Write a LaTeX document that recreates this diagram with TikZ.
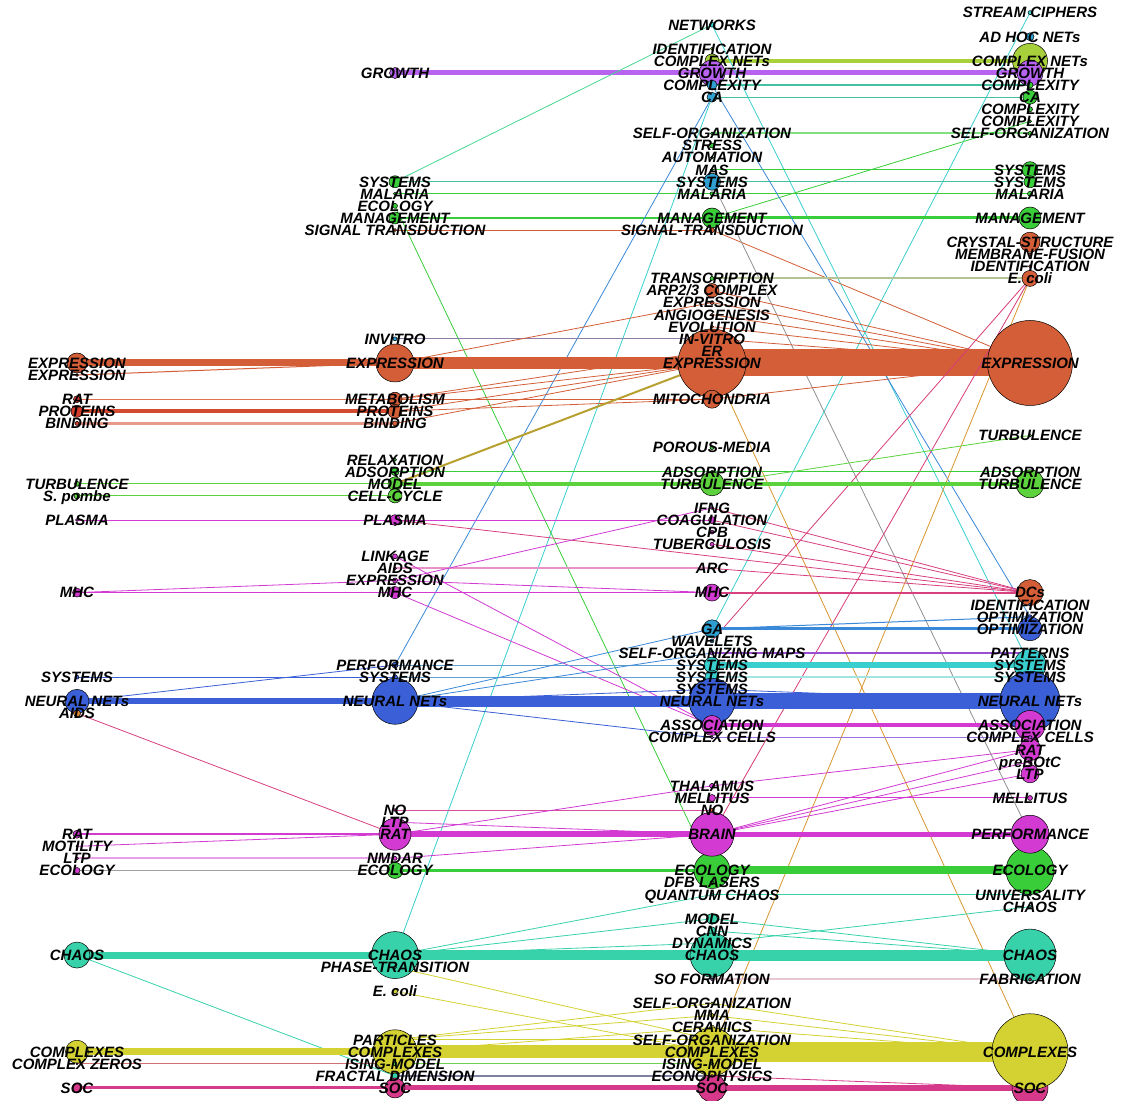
\documentclass[tikz,border=0pt]{standalone}
\usepackage{fontspec}
\setmainfont{Liberation Sans}
\pgfdeclarelayer{bg}
\pgfsetlayers{bg,main}
\definecolor{cOr}{HTML}{D35E38}
\definecolor{cRed}{HTML}{D33C2C}
\definecolor{cPur}{HTML}{B862F0}
\definecolor{cYG}{HTML}{A8D03A}
\definecolor{cGr}{HTML}{3ACD3A}
\definecolor{cLG}{HTML}{5CD23C}
\definecolor{cBT}{HTML}{2E9FD0}
\definecolor{cBl}{HTML}{3A5FD6}
\definecolor{cMag}{HTML}{D23AD2}
\definecolor{cTe}{HTML}{38D2AA}
\definecolor{cCy}{HTML}{3ACFCF}
\definecolor{cYe}{HTML}{D3D232}
\definecolor{cPk}{HTML}{D6398A}
\definecolor{cOr2}{HTML}{DC8A30}
\definecolor{cVi}{HTML}{9A4FD0}
\definecolor{eTG}{HTML}{45D890}
\definecolor{eSy}{HTML}{45C0A0}
\definecolor{eLG}{HTML}{80E080}
\definecolor{eBl}{HTML}{3A88D8}
\definecolor{eGy}{HTML}{909090}
\definecolor{eKh}{HTML}{B4C494}
\definecolor{eIv}{HTML}{8C7CA8}
\definecolor{eRo}{HTML}{E07050}
\definecolor{ePr}{HTML}{D24A30}
\definecolor{eBi}{HTML}{E89A88}
\definecolor{eOl}{HTML}{B8A030}
\definecolor{eGo}{HTML}{D8962E}
\definecolor{eCr}{HTML}{D83C78}
\definecolor{eDc}{HTML}{D84080}
\definecolor{ePm}{HTML}{E890C8}
\definecolor{eSb}{HTML}{60A0D0}
\definecolor{ePc}{HTML}{A0E4E4}
\definecolor{eCc}{HTML}{A070E0}
\definecolor{eLm}{HTML}{E8A0E8}
\definecolor{eGr2}{HTML}{A0A0A0}
\definecolor{eFb}{HTML}{E8C8D0}
\definecolor{eZr}{HTML}{D07070}
\definecolor{eIs}{HTML}{70D050}
\definecolor{eFr}{HTML}{8080A0}
\definecolor{eNo}{HTML}{D850A0}
\tikzset{
  circ/.style={circle, draw=black, line width=0.5pt, inner sep=0pt},
  lbl/.style={font=\fontsize{15}{15}\selectfont\bfseries\itshape, inner sep=0pt,
              text height=10.7pt, text depth=0pt, text=black},
}
\newcommand\nodelist{%
% column 1
\N{aexpr}{77}{24}{20}{cOr}{EXPRESSION}
\N{aexprb}{77}{25}{3}{cOr}{EXPRESSION}
\N{arat}{77}{27}{7}{cRed}{RAT}
\N{aprot}{77}{28}{12}{cRed}{PROTEINS}
\N{abind}{77}{29}{4}{cRed}{BINDING}
\N{aturb}{77}{34}{5}{cLG}{TURBULENCE}
\N{aspombe}{77}{35}{6}{cLG}{S. pombe}
\N{aplasma}{77}{37}{3}{cMag}{PLASMA}
\N{amhc}{77}{43}{9}{cMag}{MHC}
\N{asys}{77}{50}{4}{cBl}{SYSTEMS}
\N{ann}{77}{52}{24}{cBl}{NEURAL NETs}
\N{aaids}{77}{53}{7}{cOr2}{AIDS}
\N{aratb}{77}{63}{8}{cMag}{RAT}
\N{amot}{77}{64}{2}{cMag}{MOTILITY}
\N{altp}{77}{65}{3}{cMag}{LTP}
\N{aeco}{77}{66}{6}{cMag}{ECOLOGY}
\N{achaos}{77}{73}{26}{cTe}{CHAOS}
\N{acplx}{77}{81}{23}{cYe}{COMPLEXES}
\N{acz}{77}{82}{2}{cVi}{COMPLEX ZEROS}
\N{asoc}{77}{84}{10}{cPk}{SOC}
% column 2
\N{bgrowth}{395}{0}{11}{cPur}{GROWTH}
\N{bsys}{395}{9}{12}{cGr}{SYSTEMS}
\N{bmal}{395}{10}{3}{cGr}{MALARIA}
\N{beco}{395}{11}{5}{cGr}{ECOLOGY}
\N{bman}{395}{12}{12}{cGr}{MANAGEMENT}
\N{bsig}{395}{13}{3}{cOr}{SIGNAL TRANSDUCTION}
\N{binvitro}{395}{22}{4}{cBT}{INVITRO}
\N{bexpr}{395}{24}{38}{cOr}{EXPRESSION}
\N{bmeta}{395}{27}{14}{cOr}{METABOLISM}
\N{bprot}{395}{28}{14}{cOr}{PROTEINS}
\N{bbind}{395}{29}{5}{cOr}{BINDING}
\N{brelax}{395}{32}{3}{cGr}{RELAXATION}
\N{bads}{395}{33}{8}{cGr}{ADSORPTION}
\N{bmodel}{395}{34}{14}{cLG}{MODEL}
\N{bcell}{395}{35}{14}{cLG}{CELL-CYCLE}
\N{bplasma}{395}{37}{11}{cMag}{PLASMA}
\N{blink}{395}{40}{5}{cMag}{LINKAGE}
\N{baids}{395}{41}{3}{cMag}{AIDS}
\N{bexprb}{395}{42}{5}{cMag}{EXPRESSION}
\N{bmhc}{395}{43}{12}{cMag}{MHC}
\N{bperf}{395}{49}{6}{cBl}{PERFORMANCE}
\N{bsysb}{395}{50}{5}{cBl}{SYSTEMS}
\N{bnn}{395}{52}{46}{cBl}{NEURAL NETs}
\N{bno}{395}{61}{3}{cMag}{NO}
\N{bltp}{395}{62}{5}{cMag}{LTP}
\N{brat}{395}{63}{32}{cMag}{RAT}
\N{bnmdar}{395}{65}{4}{cMag}{NMDAR}
\N{becob}{395}{66}{16}{cGr}{ECOLOGY}
\N{bchaos}{395}{73}{47}{cTe}{CHAOS}
\N{bphase}{395}{74}{3}{cTe}{PHASE-TRANSITION}
\N{becoli}{395}{76}{5}{cYe}{E. coli}
\N{bpart}{395}{80}{4}{cYe}{PARTICLES}
\N{bcplx}{395}{81}{44}{cYe}{COMPLEXES}
\N{bising}{395}{82}{4}{cGr}{ISING-MODEL}
\N{bfrac}{395}{83}{6}{cTe}{FRACTAL DIMENSION}
\N{bsoc}{395}{84}{20}{cPk}{SOC}
% column 3
\N{cnet}{712}{-4}{5}{cCy}{NETWORKS}
\N{cident}{712}{-2}{3}{cYG}{IDENTIFICATION}
\N{ccnet}{712}{-1}{14}{cYG}{COMPLEX NETs}
\N{cgrowth}{712}{0}{26}{cPur}{GROWTH}
\N{ccplxty}{712}{1}{10}{cBT}{COMPLEXITY}
\N{cca}{712}{2}{10}{cBT}{CA}
\N{cself}{712}{5}{3}{cGr}{SELF-ORGANIZATION}
\N{cstress}{712}{6}{5}{cGr}{STRESS}
\N{cauto}{712}{7}{3}{cGr}{AUTOMATION}
\N{cmas}{712}{8}{3}{cGr}{MAS}
\N{csys}{712}{9}{17}{cBT}{SYSTEMS}
\N{cmal}{712}{10}{4}{cGr}{MALARIA}
\N{cman}{712}{12}{20}{cGr}{MANAGEMENT}
\N{csig}{712}{13}{5}{cOr}{SIGNAL-TRANSDUCTION}
\N{ctrans}{712}{17}{4}{cGr}{TRANSCRIPTION}
\N{carp}{712}{18}{14}{cOr}{ARP2/3 COMPLEX}
\N{cexprb}{712}{19}{4}{cOr}{EXPRESSION}
\N{cangio}{712}{20}{3}{cOr}{ANGIOGENESIS}
\N{cevo}{712}{21}{3}{cOr}{EVOLUTION}
\N{cinvitro}{712}{22}{3}{cOr}{IN-VITRO}
\N{cer}{712}{23}{3}{cOr}{ER}
\N{cexpr}{712}{24}{68}{cOr}{EXPRESSION}
\N{cmito}{712}{27}{18}{cOr}{MITOCHONDRIA}
\N{cporous}{712}{31}{4}{cGr}{POROUS-MEDIA}
\N{cads}{712}{33}{3}{cGr}{ADSORPTION}
\N{cturb}{712}{34}{24}{cLG}{TURBULENCE}
\N{cifng}{712}{36}{3}{cMag}{IFNG}
\N{ccoag}{712}{37}{7}{cMag}{COAGULATION}
\N{ccpb}{712}{38}{4}{cMag}{CPB}
\N{ctb}{712}{39}{4}{cMag}{TUBERCULOSIS}
\N{carc}{712}{41}{2}{cMag}{ARC}
\N{cmhc}{712}{43}{17}{cMag}{MHC}
\N{cga}{712}{46}{18}{cBT}{GA}
\N{cwav}{712}{47}{4}{cBT}{WAVELETS}
\N{csom}{712}{48}{4}{cVi}{SELF-ORGANIZING MAPS}
\N{csysa}{712}{49}{16}{cCy}{SYSTEMS}
\N{csysb}{712}{50}{14}{cCy}{SYSTEMS}
\N{csysc}{712}{51}{5}{cBl}{SYSTEMS}
\N{cnn}{712}{52}{46}{cBl}{NEURAL NETs}
\N{cassoc}{712}{54}{20}{cMag}{ASSOCIATION}
\N{ccc}{712}{55}{3}{cVi}{COMPLEX CELLS}
\N{cthal}{712}{59}{5}{cMag}{THALAMUS}
\N{cmell}{712}{60}{7}{cMag}{MELLITUS}
\N{cno}{712}{61}{4}{cOr}{NO}
\N{ceco}{712}{66}{36}{cGr}{ECOLOGY}
\N{cbrain}{712}{63}{44}{cMag}{BRAIN}
\N{cdfb}{712}{67}{4}{cGr}{DFB LASERS}
\N{cqc}{712}{68}{3}{cTe}{QUANTUM CHAOS}
\N{cmodel}{712}{70}{11}{cTe}{MODEL}
\N{ccnn}{712}{71}{8}{cTe}{CNN}
\N{cdyn}{712}{72}{5}{cTe}{DYNAMICS}
\N{cchaos}{712}{73}{44}{cTe}{CHAOS}
\N{cso}{712}{75}{3}{cVi}{SO FORMATION}
\N{cselfa}{712}{77}{3}{cYe}{SELF-ORGANIZATION}
\N{cmma}{712}{78}{4}{cYe}{MMA}
\N{ccer}{712}{79}{5}{cYe}{CERAMICS}
\N{cselfb}{712}{80}{5}{cYe}{SELF-ORGANIZATION}
\N{csoc}{712}{84}{28}{cPk}{SOC}
\N{ccplx}{712}{81}{48}{cYe}{COMPLEXES}
\N{cising}{712}{82}{3}{cGr}{ISING-MODEL}
\N{cecon}{712}{83}{3}{cPk}{ECONOPHYSICS}
% column 4
\N{dstream}{1030}{-5}{4}{cCy}{STREAM CIPHERS}
\N{dadhoc}{1030}{-3}{8}{cBT}{AD HOC NETs}
\N{dcnet}{1030}{-1}{35}{cYG}{COMPLEX NETs}
\N{dgrowth}{1030}{0}{26}{cPur}{GROWTH}
\N{dcplxty}{1030}{1}{6}{cGr}{COMPLEXITY}
\N{dca}{1030}{2}{14}{cGr}{CA}
\N{dcplxtyb}{1030}{3}{5}{cGr}{COMPLEXITY}
\N{dcplxtyc}{1030}{4}{3}{cGr}{COMPLEXITY}
\N{dself}{1030}{5}{4}{cGr}{SELF-ORGANIZATION}
\N{dsysa}{1030}{8}{16}{cGr}{SYSTEMS}
\N{dsysb}{1030}{9}{12}{cGr}{SYSTEMS}
\N{dmal}{1030}{10}{5}{cGr}{MALARIA}
\N{dman}{1030}{12}{22}{cGr}{MANAGEMENT}
\N{dcrys}{1030}{14}{20}{cOr}{CRYSTAL-STRUCTURE}
\N{dmemb}{1030}{15}{3}{cOr}{MEMBRANE-FUSION}
\N{dident}{1030}{16}{3}{cOr}{IDENTIFICATION}
\N{decoli}{1030}{17}{16}{cOr}{E. coli}
\N{dexpr}{1030}{24}{85}{cOr}{EXPRESSION}
\N{dturbb}{1030}{30}{3}{cLG}{TURBULENCE}
\N{dads}{1030}{33}{3}{cGr}{ADSORPTION}
\N{dturb}{1030}{34}{28}{cLG}{TURBULENCE}
\N{ddcs}{1030}{43}{26}{cOr}{DCs}
\N{didentb}{1030}{44}{3}{cBl}{IDENTIFICATION}
\N{dopta}{1030}{45}{4}{cBl}{OPTIMIZATION}
\N{doptb}{1030}{46}{24}{cBl}{OPTIMIZATION}
\N{dpat}{1030}{48}{4}{cCy}{PATTERNS}
\N{dsysc}{1030}{49}{32}{cCy}{SYSTEMS}
\N{dsysd}{1030}{50}{9}{cCy}{SYSTEMS}
\N{dnn}{1030}{52}{60}{cBl}{NEURAL NETs}
\N{dassoc}{1030}{54}{30}{cMag}{ASSOCIATION}
\N{dcc}{1030}{55}{4}{cVi}{COMPLEX CELLS}
\N{drat}{1030}{56}{22}{cMag}{RAT}
\N{dpre}{1030}{57}{4}{cMag}{preBOtC}
\N{dltp}{1030}{58}{18}{cMag}{LTP}
\N{dmell}{1030}{60}{5}{cMag}{MELLITUS}
\N{deco}{1030}{66}{48}{cGr}{ECOLOGY}
\N{dperf}{1030}{63}{38}{cMag}{PERFORMANCE}
\N{duniv}{1030}{68}{3}{cTe}{UNIVERSALITY}
\N{dchaosb}{1030}{69}{3}{cTe}{CHAOS}
\N{dchaos}{1030}{73}{52}{cTe}{CHAOS}
\N{dfab}{1030}{75}{3}{cPk}{FABRICATION}
\N{dsoc}{1030}{84}{36}{cPk}{SOC}
\N{dcplx}{1030}{81}{76}{cYe}{COMPLEXES}
}
\newcommand\E[4]{\draw[line width=#4pt, draw=#3] (#1.center) -- (#2.center);}
\begin{document}
\begin{tikzpicture}[x=1pt, y=-12.083pt]
\useasboundingbox (0,-6.0415) rectangle (1123,85.078);
% nodes, first pass: circles
\def\N#1#2#3#4#5#6{\node[circ, minimum size=#4pt, fill=#5] (#1) at (#2,#3) {};}
\nodelist
\begin{pgfonlayer}{bg}
\fill[white] (0,-6.0415) rectangle (1123,85.078);
% top clusters
\E{bgrowth}{cgrowth}{cPur}{5}
\E{cgrowth}{dgrowth}{cPur}{5}
\E{ccnet}{dcnet}{cYG}{4}
\E{bsys}{cnet}{eTG}{0.8}
\E{cnet}{dsysc}{cCy}{0.8}
\E{dstream}{cga}{cCy}{0.8}
\E{ccplxty}{dcplxty}{eSy}{1.2}
\E{cca}{dca}{eSy}{1.2}
\E{cself}{dself}{eLG}{2}
\E{cmas}{dsysa}{cGr}{1.2}
\E{bsys}{csys}{eSy}{1.2}
\E{csys}{dsysb}{eSy}{1.5}
\E{bmal}{cmal}{cGr}{1}
\E{cmal}{dmal}{cGr}{1}
\E{bman}{cman}{cGr}{2}
\E{cman}{dman}{cGr}{3}
\E{bsig}{csig}{cOr}{1}
\E{csig}{dexpr}{cOr}{0.8}
\E{dcplxtyc}{cman}{cGr}{0.8}
\E{cca}{bperf}{eBl}{0.8}
\E{cca}{bchaos}{cCy}{0.8}
\E{ccplxty}{dopta}{eBl}{0.8}
\E{csys}{dperf}{eGy}{0.8}
\E{beco}{ceco}{cGr}{0.8}
\E{ctrans}{decoli}{eKh}{2}
\E{binvitro}{cinvitro}{eIv}{1}
% expression cluster
\E{aexpr}{bexpr}{cOr}{7}
\E{bexpr}{cexpr}{cOr}{12}
\E{cexpr}{dexpr}{cOr}{27}
\E{aexprb}{bexpr}{cOr}{1}
\E{arat}{bmeta}{eRo}{1.2}
\E{aprot}{bprot}{ePr}{4}
\E{abind}{bbind}{eBi}{3}
\E{bmeta}{cmito}{cOr}{1}
\E{bmeta}{cer}{cOr}{0.8}
\E{bmeta}{cexpr}{cOr}{0.8}
\E{bprot}{cexpr}{cOr}{0.8}
\E{bbind}{cexpr}{cOr}{0.8}
\E{bprot}{cmito}{cOr}{0.8}
\E{bexpr}{cexprb}{cOr}{0.8}
\E{bmodel}{cexpr}{eOl}{2}
\E{carp}{dexpr}{cOr}{0.8}
\E{cexprb}{dexpr}{cOr}{0.8}
\E{cangio}{dexpr}{cOr}{0.8}
\E{cevo}{dexpr}{cOr}{0.8}
\E{cinvitro}{dexpr}{cOr}{0.8}
\E{cer}{dexpr}{cOr}{0.8}
\E{cmito}{dexpr}{cOr}{0.8}
\E{cexpr}{dcplx}{eGo}{0.8}
\E{decoli}{ccplx}{eGo}{0.8}
\E{decoli}{cwav}{eCr}{0.8}
\E{decoli}{cbrain}{eCr}{0.8}
% turbulence
\E{aturb}{bmodel}{cLG}{1}
\E{aspombe}{bcell}{cLG}{1}
\E{bmodel}{cturb}{cLG}{4}
\E{cturb}{dturb}{cLG}{4}
\E{bads}{cads}{cGr}{1}
\E{cads}{dads}{cGr}{1}
\E{cturb}{dturbb}{cLG}{0.8}
% plasma / mhc
\E{aplasma}{bplasma}{cMag}{1}
\E{bplasma}{ccoag}{cMag}{1}
\E{bplasma}{ddcs}{eDc}{0.8}
\E{cifng}{ddcs}{eDc}{0.8}
\E{ccoag}{ddcs}{eDc}{0.8}
\E{ctb}{ddcs}{eDc}{0.8}
\E{carc}{ddcs}{eDc}{0.8}
\E{cmhc}{ddcs}{eDc}{2}
\E{amhc}{bmhc}{cMag}{1}
\E{amhc}{bexprb}{cMag}{0.8}
\E{baids}{carc}{ePm}{2}
\E{bexprb}{cifng}{cMag}{0.8}
\E{bexprb}{cmhc}{cMag}{0.8}
\E{bmhc}{cmhc}{cMag}{1}
\E{blink}{cassoc}{cMag}{0.8}
\E{bmhc}{cassoc}{cMag}{0.8}
% neural nets
\E{asys}{bsysb}{cBl}{0.8}
\E{ann}{bperf}{cBl}{0.8}
\E{ann}{bnn}{cBl}{6}
\E{bnn}{cnn}{cBl}{11}
\E{cnn}{dnn}{cBl}{16}
\E{bperf}{csysa}{eSb}{1}
\E{bsysb}{csysb}{eSb}{1}
\E{bnn}{cga}{eBl}{0.8}
\E{bnn}{csom}{eBl}{0.8}
\E{bnn}{csysc}{cBl}{0.8}
\E{bnn}{ccc}{cBl}{0.8}
\E{cga}{doptb}{eBl}{3}
\E{cga}{dopta}{eBl}{1}
\E{csom}{dpat}{cVi}{1.2}
\E{csysa}{dsysc}{cCy}{6}
\E{csysb}{dsysd}{ePc}{2}
\E{csysc}{dnn}{cBl}{0.8}
\E{cassoc}{dassoc}{cMag}{4}
\E{ccc}{dcc}{eCc}{1.5}
\E{aaids}{brat}{eDc}{0.8}
% brain / rat
\E{aratb}{brat}{cMag}{2}
\E{amot}{brat}{cMag}{0.8}
\E{altp}{bnmdar}{eLm}{2}
\E{aeco}{becob}{eGr2}{1.5}
\E{brat}{cbrain}{cMag}{6}
\E{cbrain}{dperf}{cMag}{5}
\E{bno}{cno}{eNo}{1}
\E{bltp}{cbrain}{cMag}{0.8}
\E{brat}{cthal}{cMag}{0.8}
\E{bnmdar}{cbrain}{cMag}{0.8}
\E{cthal}{drat}{cMag}{0.8}
\E{cbrain}{drat}{cMag}{0.8}
\E{cbrain}{dpre}{cMag}{0.8}
\E{cbrain}{dltp}{cMag}{0.8}
\E{cmell}{dmell}{cMag}{1}
\E{becob}{ceco}{cGr}{3}
\E{ceco}{deco}{cGr}{8}
% chaos
\E{achaos}{bchaos}{cTe}{7}
\E{bchaos}{cchaos}{cTe}{10}
\E{cchaos}{dchaos}{cTe}{11}
\E{achaos}{bfrac}{cTe}{0.8}
\E{bchaos}{cqc}{cTe}{0.8}
\E{bchaos}{cmodel}{cTe}{0.8}
\E{bchaos}{cdyn}{cTe}{0.8}
\E{cqc}{duniv}{cTe}{1}
\E{cmodel}{dchaos}{cTe}{0.8}
\E{ccnn}{dchaos}{cTe}{0.8}
\E{cdyn}{dchaosb}{cTe}{0.8}
\E{cso}{dfab}{eFb}{1.5}
\E{bphase}{cselfb}{cYe}{0.8}
\E{becoli}{ccplx}{cYe}{0.8}
% complexes / soc
\E{acplx}{bcplx}{cYe}{7}
\E{bcplx}{ccplx}{cYe}{13}
\E{ccplx}{dcplx}{cYe}{20}
\E{bpart}{cselfa}{cYe}{0.8}
\E{bpart}{cmma}{cYe}{0.8}
\E{bpart}{cselfb}{cYe}{0.8}
\E{bcplx}{ccer}{cYe}{0.8}
\E{cselfa}{dcplx}{cYe}{0.8}
\E{cmma}{dcplx}{cYe}{0.8}
\E{ccer}{dcplx}{cYe}{0.8}
\E{acz}{bising}{eZr}{1}
\E{bising}{cising}{eIs}{1}
\E{bfrac}{cecon}{eFr}{1.2}
\E{cecon}{dsoc}{cPk}{0.8}
\E{asoc}{bsoc}{cPk}{3}
\E{bsoc}{csoc}{cPk}{5}
\E{csoc}{dsoc}{cPk}{6}
\end{pgfonlayer}
% second pass: labels on top
\def\N#1#2#3#4#5#6{\node[lbl] (#1t) at (#2,#3) {#6};}
\nodelist
\end{tikzpicture}
\end{document}
